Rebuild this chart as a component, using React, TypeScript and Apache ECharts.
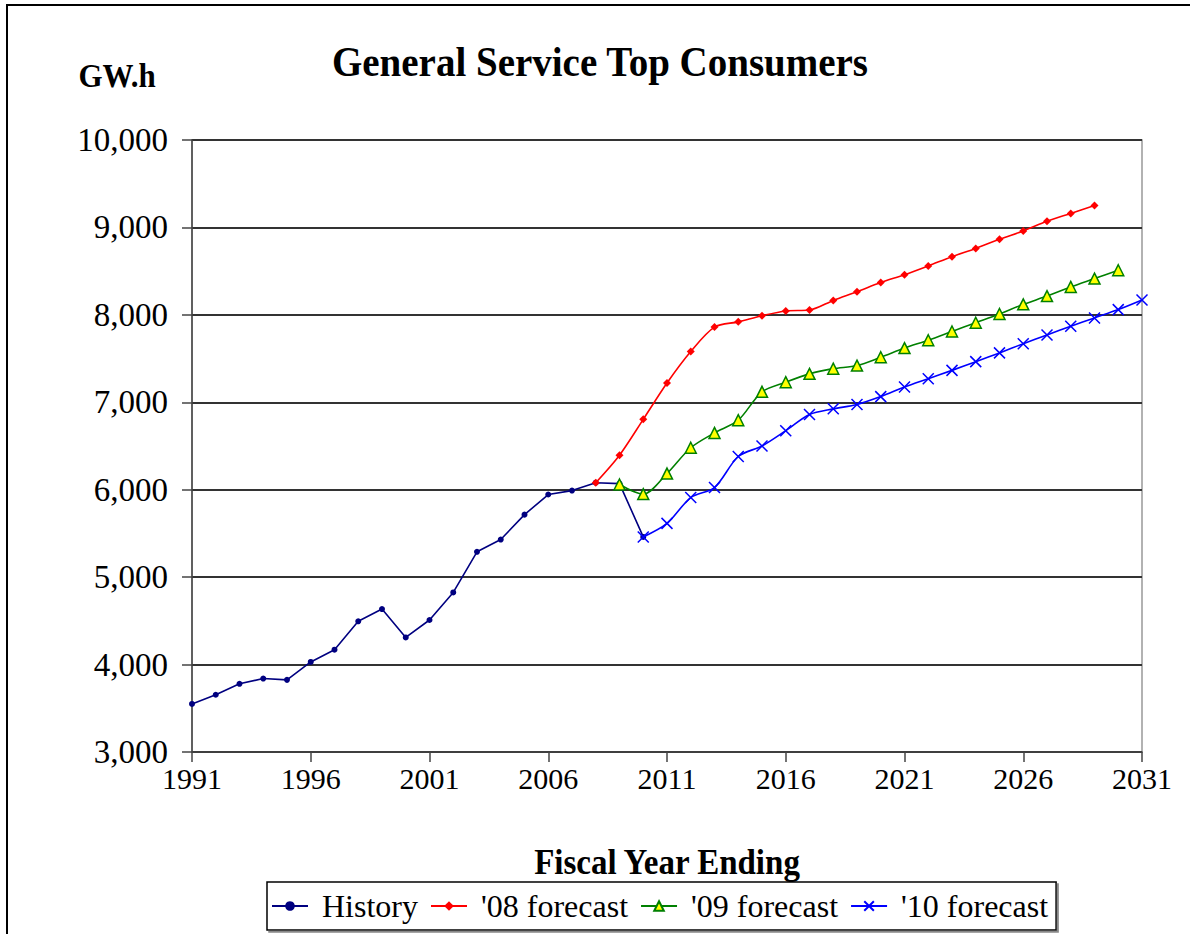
import React, { useEffect, useRef } from "react";
import * as echarts from "echarts";

const years: string[] = [];
for (let y = 1991; y <= 2031; y++) years.push(String(y));

const historyStart = 1991;
const historyValues = [3550, 3655, 3780, 3840, 3825, 4030, 4170, 4495, 4635, 4310, 4510, 4825, 5290, 5430, 5715, 5945, 5990, 6080, 6070, 5460];

const fc08Start = 2008;
const fc08Values = [6080, 6395, 6805, 7220, 7580, 7860, 7920, 7990, 8045, 8055, 8165, 8265, 8370, 8460, 8560, 8665, 8760, 8865, 8960, 9070, 9160, 9250];

const fc09Start = 2009;
const fc09Values = [6060, 5950, 6185, 6480, 6650, 6795, 7120, 7230, 7325, 7385, 7420, 7515, 7620, 7710, 7810, 7910, 8010, 8120, 8215, 8320, 8415, 8510];

const fc10Start = 2010;
const fc10Values = [5460, 5615, 5910, 6025, 6380, 6500, 6675, 6860, 6925, 6975, 7065, 7175, 7270, 7365, 7465, 7565, 7670, 7770, 7870, 7965, 8060, 8170];

const yTicks = [3000, 4000, 5000, 6000, 7000, 8000, 9000, 10000];

function toSeries(start: number, vals: number[]) {
  return years.map((y) => {
    const i = Number(y) - start;
    return i >= 0 && i < vals.length ? vals[i] : null;
  });
}

const FONT = "'Liberation Serif', 'Times New Roman', serif";

export default function App() {
  const ref = useRef<HTMLDivElement>(null);
  useEffect(() => {
    if (!ref.current) return;
    const chart = echarts.init(ref.current, null, { renderer: "svg" });
    const option: any = {
      animation: false,
      backgroundColor: "#fff",
      textStyle: { fontFamily: FONT },
      grid: {
        left: 192,
        right: 48,
        top: 140,
        bottom: 182,
        show: true,
        borderColor: "#999",
        borderWidth: 1.5,
        backgroundColor: "transparent",
      },
      graphic: [
        {
          type: "rect",
          shape: { x: 7, y: 5, width: 1300, height: 1100 },
          style: { fill: "none", stroke: "#000", lineWidth: 2 },
          silent: true,
        },
        {
          type: "text",
          x: 600,
          y: 61,
          scaleY: 1.1,
          style: {
            text: "General Service Top Consumers",
            font: `bold 39px ${FONT}`,
            fill: "#000",
            textAlign: "center",
            textVerticalAlign: "middle",
          },
        },
        {
          type: "text",
          x: 117,
          y: 76,
          scaleY: 1.08,
          style: {
            text: "GW.h",
            font: `bold 31px ${FONT}`,
            fill: "#000",
            textAlign: "center",
            textVerticalAlign: "middle",
          },
        },
        {
          type: "text",
          x: 667,
          y: 862,
          scaleY: 1.08,
          style: {
            text: "Fiscal Year Ending",
            font: `bold 33px ${FONT}`,
            fill: "#000",
            textAlign: "center",
            textVerticalAlign: "middle",
          },
        },
      ],
      legend: {
        left: 267,
        top: 882,
        orient: "horizontal",
        borderColor: "#000",
        borderWidth: 1.5,
        backgroundColor: "#fff",
        shadowColor: "#888",
        shadowOffsetX: 2,
        shadowOffsetY: 2,
        shadowBlur: 0,
        padding: [8, 8, 8, 4],
        itemGap: 12,
        itemWidth: 36,
        itemHeight: 12,
        textStyle: { fontFamily: FONT, fontSize: 32, color: "#000", padding: [0, 0, 0, 9] },
        data: ["History", "'08 forecast", "'09 forecast", "'10 forecast"],
      },
      xAxis: {
        type: "category",
        data: years,
        boundaryGap: false,
        axisLine: { lineStyle: { color: "#444", width: 1.5 } },
        axisTick: { show: true, interval: 4, length: 10, lineStyle: { color: "#444", width: 1.5 } },
        axisLabel: { interval: 4, fontSize: 30, color: "#000", fontFamily: FONT, margin: 11 },
        splitLine: { show: false },
      },
      yAxis: {
        type: "value",
        min: yTicks[0],
        max: yTicks[yTicks.length - 1],
        interval: 1000,
        axisLine: { show: true, lineStyle: { color: "#444", width: 1.5 } },
        axisTick: { show: true, length: 10, lineStyle: { color: "#444", width: 1.5 } },
        axisLabel: {
          fontSize: 33,
          color: "#000",
          fontFamily: FONT,
          margin: 24,
          formatter: (v: number) => v.toLocaleString("en-US"),
        },
        splitLine: { show: true, lineStyle: { color: "#333", width: 2 } },
      },
      series: [
        {
          name: "History",
          type: "line",
          data: toSeries(historyStart, historyValues),
          symbol: "circle",
          symbolSize: 6,
          itemStyle: { color: "#000080" },
          lineStyle: { color: "#000080", width: 1.6 },
          z: 2,
        },
        {
          name: "'08 forecast",
          type: "line",
          data: toSeries(fc08Start, fc08Values),
          symbol: "diamond",
          symbolSize: 8,
          smooth: 0.3,
          itemStyle: { color: "#FF0000" },
          lineStyle: { color: "#FF0000", width: 1.6 },
          z: 3,
        },
        {
          name: "'09 forecast",
          type: "line",
          data: toSeries(fc09Start, fc09Values),
          symbol: "triangle",
          symbolSize: 11,
          smooth: 0.3,
          itemStyle: { color: "#FFFF00", borderColor: "#008000", borderWidth: 1.5 },
          lineStyle: { color: "#008000", width: 1.6 },
          z: 4,
        },
        {
          name: "'10 forecast",
          type: "line",
          data: toSeries(fc10Start, fc10Values),
          symbol: "path://M0,0L10,10M10,0L0,10",
          symbolSize: 11,
          smooth: 0.3,
          itemStyle: { color: "none", borderColor: "#0000FF", borderWidth: 1.5 },
          lineStyle: { color: "#0000FF", width: 1.6 },
          z: 5,
        },
      ],
    };
    chart.setOption(option);
    return () => chart.dispose();
  }, []);
  return (
    <div
      ref={ref}
      style={{ position: "fixed", left: 0, top: 0, width: 1190, height: 934, background: "#fff" }}
    />
  );
}
